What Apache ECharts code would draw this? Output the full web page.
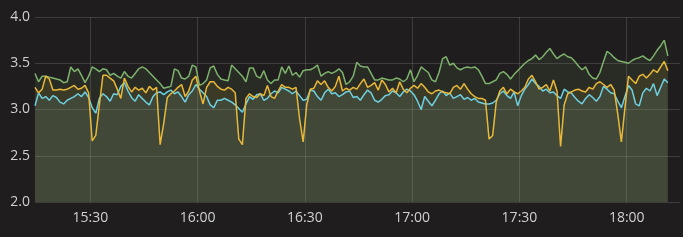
<!DOCTYPE html>
<html><head><meta charset="utf-8">
<script src="https://cdn.jsdelivr.net/npm/echarts@6/dist/echarts.min.js"></script>
<style>html,body{margin:0;padding:0;background:#ffffff;}#c{width:683px;height:237px;}</style>
</head><body><div id="c"></div>
<script>
// ---- data ----
const startTime = '15:14:30';      // time of first sample
const stepMinutes = 1;             // sample spacing
const axisMin = '15:14:30';
const axisMax = '18:14:54';
const xTickLabels = ['15:30', '16:00', '16:30', '17:00', '17:30', '18:00'];
const yTickLabels = ['2.0', '2.5', '3.0', '3.5', '4.0'];

const greenVals = [
3.39,3.30,3.36,3.36,3.35,3.34,3.33,3.32,3.29,3.30,
3.46,3.41,3.44,3.37,3.29,3.36,3.46,3.44,3.41,3.44,
3.43,3.37,3.39,3.36,3.34,3.41,3.36,3.34,3.39,3.44,
3.46,3.44,3.40,3.36,3.32,3.28,3.23,3.24,3.25,3.44,
3.42,3.34,3.33,3.36,3.48,3.46,3.26,3.28,3.32,3.45,
3.47,3.38,3.33,3.32,3.31,3.48,3.44,3.40,3.36,3.30,
3.45,3.45,3.36,3.34,3.42,3.32,3.28,3.32,3.32,3.46,
3.39,3.47,3.37,3.40,3.35,3.42,3.43,3.43,3.45,3.48,
3.36,3.39,3.41,3.39,3.41,3.44,3.40,3.27,3.30,3.36,
3.51,3.47,3.46,3.46,3.39,3.32,3.32,3.34,3.33,3.32,
3.32,3.34,3.33,3.30,3.33,3.43,3.30,3.37,3.46,3.43,
3.40,3.32,3.30,3.40,3.55,3.57,3.48,3.50,3.45,3.43,
3.45,3.46,3.45,3.46,3.43,3.36,3.28,3.28,3.30,3.32,
3.39,3.41,3.38,3.33,3.38,3.42,3.46,3.50,3.53,3.55,
3.59,3.54,3.57,3.62,3.66,3.60,3.55,3.58,3.60,3.57,
3.56,3.52,3.47,3.43,3.46,3.38,3.34,3.33,3.40,3.52,
3.63,3.60,3.56,3.53,3.52,3.51,3.50,3.53,3.55,3.56,
3.58,3.55,3.53,3.58,3.64,3.69,3.75,3.58
];
const yellowVals = [
3.24,3.18,3.22,3.36,3.33,3.21,3.21,3.22,3.21,3.22,
3.24,3.26,3.22,3.23,3.26,3.18,2.66,2.72,3.05,3.37,
3.37,3.34,3.31,3.22,3.12,3.34,3.25,3.19,3.24,3.21,
3.23,3.18,3.25,3.21,3.24,2.62,2.85,3.13,3.17,3.20,
3.24,3.27,3.14,3.20,3.32,3.36,3.20,3.06,3.24,3.30,
3.30,3.25,3.22,3.21,3.24,3.22,3.18,2.68,2.62,3.12,
3.17,3.14,3.13,3.17,3.15,3.26,3.14,3.12,3.20,3.27,
3.24,3.24,3.22,3.24,2.90,2.65,3.05,3.22,3.23,3.31,
3.27,3.31,3.24,3.20,3.25,3.36,3.20,3.23,3.21,3.24,
3.22,3.28,3.33,3.24,3.26,3.29,3.21,3.32,3.27,3.19,
3.23,3.18,3.30,3.22,3.18,3.23,3.26,3.23,3.28,3.24,
3.19,3.17,3.20,3.21,3.19,3.18,3.17,3.24,3.26,3.22,
3.28,3.22,3.17,3.14,3.12,3.12,3.10,2.68,2.72,3.08,
3.20,3.24,3.17,3.22,3.19,3.17,3.20,3.24,3.33,3.37,
3.30,3.22,3.24,3.27,3.20,3.32,3.20,2.60,3.05,3.17,
3.19,3.21,3.22,3.20,3.19,3.24,3.22,3.28,3.30,3.27,
3.24,3.27,3.21,2.95,2.65,3.02,3.36,3.32,3.28,3.36,
3.38,3.34,3.38,3.43,3.40,3.46,3.52,3.42
];
const cyanVals = [
3.04,3.18,3.12,3.14,3.10,3.15,3.13,3.08,3.06,3.10,
3.12,3.14,3.17,3.14,3.19,3.13,3.02,2.96,3.12,3.17,
3.14,3.09,3.17,3.16,3.25,3.29,3.20,3.13,3.09,3.16,
3.12,3.08,3.05,3.14,3.18,3.19,3.16,3.19,3.21,3.17,
3.19,3.14,3.08,3.16,3.20,3.27,3.22,3.18,3.14,3.05,
3.02,3.10,3.10,3.12,3.10,3.08,3.05,3.01,2.97,3.06,
3.14,3.11,3.16,3.17,3.10,3.12,3.17,3.20,3.18,3.24,
3.22,3.20,3.17,3.20,3.15,3.10,3.11,3.21,3.20,3.14,
3.10,3.18,3.22,3.17,3.18,3.14,3.16,3.19,3.20,3.13,
3.14,3.10,3.16,3.21,3.18,3.10,3.08,3.11,3.15,3.16,
3.20,3.18,3.14,3.19,3.22,3.20,3.16,3.09,3.00,3.14,
3.09,3.04,3.10,3.17,3.20,3.15,3.18,3.12,3.14,3.16,
3.11,3.13,3.10,3.12,3.08,3.07,3.06,3.06,3.07,3.10,
3.17,3.20,3.15,3.12,3.19,3.04,3.15,3.22,3.27,3.33,
3.28,3.25,3.20,3.22,3.18,3.19,3.15,3.12,3.22,3.19,
3.18,3.13,3.09,3.06,3.12,3.16,3.13,3.09,3.14,3.25,
3.22,3.18,3.17,3.09,3.02,3.14,3.26,3.21,3.06,3.04,
3.18,3.23,3.20,3.28,3.15,3.24,3.33,3.29
];

// ---- build (x in minutes of the day) ----
function toMin(hms) {
  const p = hms.split(':').map(Number);
  return p[0] * 60 + p[1] + (p[2] || 0) / 60;
}
function pad(n) { return (n < 10 ? '0' : '') + n; }
function fmt(m) { const r = Math.round(m); return pad(Math.floor(r / 60)) + ':' + pad(r % 60); }
const t0 = toMin(startTime);
const pairs = vals => vals.map((v, i) => [t0 + i * stepMinutes, v]);
const xTickVals = xTickLabels.map(toMin);
const yTickVals = yTickLabels.map(Number);

const gridColor = 'rgba(255,255,255,0.14)';
const labelColor = '#d0d0d0';
function mkSeries(name, vals, color) {
  return {
    name: name, type: 'line', data: pairs(vals), showSymbol: false, symbol: 'none',
    lineStyle: { color: color, width: 1.5 },
    itemStyle: { color: color },
    areaStyle: { color: color, opacity: 0.1, origin: 'start' },
    emphasis: { disabled: true }
  };
}

const chart = echarts.init(document.getElementById('c'), null, { renderer: 'canvas' });
chart.setOption({
  backgroundColor: '#1f1d1e',
  animation: false,
  textStyle: { fontFamily: 'Open Sans' },
  grid: { left: 35, right: 3, top: 17, bottom: 35 },
  xAxis: {
    type: 'value', min: toMin(axisMin), max: toMin(axisMax),
    axisLine: { show: false },
    axisTick: { show: false, customValues: xTickVals },
    axisLabel: { customValues: xTickVals, formatter: v => fmt(v), color: labelColor, fontSize: 14, fontFamily: 'Open Sans', margin: 9, showMinLabel: true, showMaxLabel: true },
    splitLine: { show: true, lineStyle: { color: gridColor, width: 1 } }
  },
  yAxis: {
    type: 'value', min: yTickVals[0], max: yTickVals[yTickVals.length - 1], interval: yTickVals[1] - yTickVals[0],
    axisLine: { show: false }, axisTick: { show: false },
    axisLabel: { formatter: v => v.toFixed(1), color: labelColor, fontSize: 14, fontFamily: 'Open Sans', margin: 5 },
    splitLine: { show: true, lineStyle: { color: gridColor, width: 1 } }
  },
  series: [
    mkSeries('green', greenVals, '#7eb26d'),
    mkSeries('cyan', cyanVals, '#6ed0e0'),
    mkSeries('yellow', yellowVals, '#eab839')
  ]
});
</script>
</body></html>
